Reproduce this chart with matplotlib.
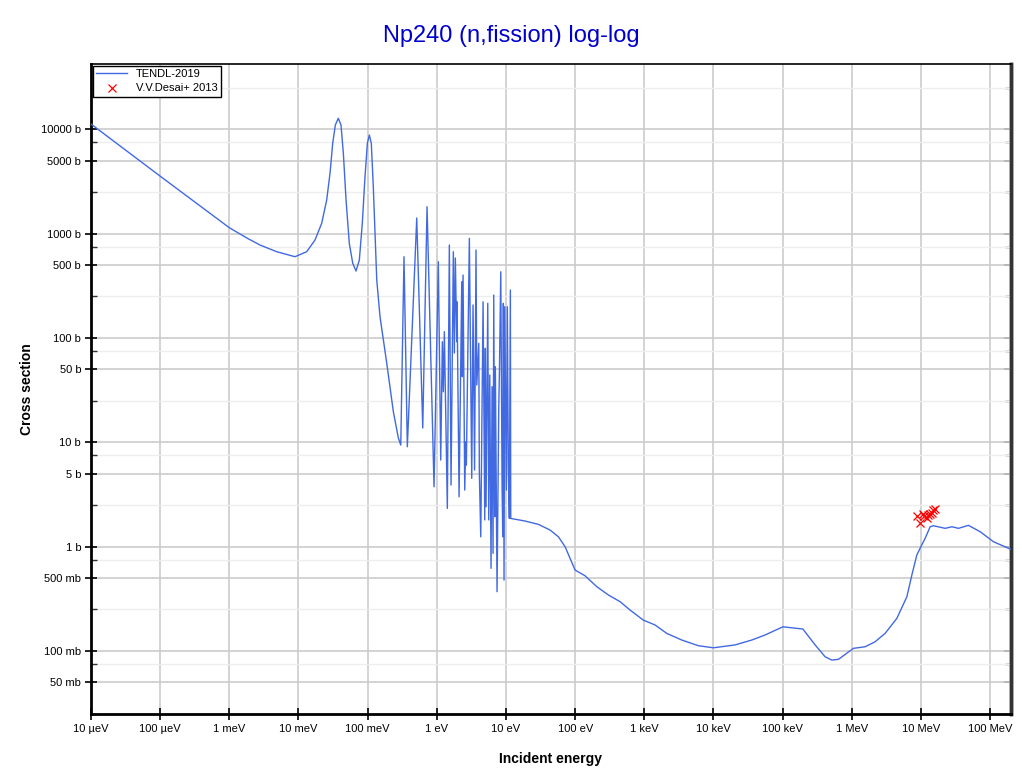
import matplotlib
matplotlib.use("Agg")
import matplotlib.pyplot as plt
from matplotlib.ticker import FixedLocator, FixedFormatter, NullFormatter

plt.rcParams['font.family'] = ['Liberation Sans', 'DejaVu Sans']

# TENDL-2019 evaluated cross section (energy in eV, sigma in barns)
tendl_energy = [
    1.0e-5, 1.0e-4, 1.0e-3, 1.8e-3, 2.78e-3, 4.84e-3, 8.91e-3, 0.01315, 0.01733, 0.02167, 0.02559,
    0.02858, 0.03126, 0.03412, 0.03767, 0.04121, 0.04457, 0.04875, 0.05433, 0.06095, 0.06792,
    0.07586, 0.08375, 0.09162, 0.0991, 0.1059, 0.1130, 0.1208, 0.1355, 0.1510, 0.1888,
    0.2355, 0.2780, 0.3013, 0.3357, 0.3750, 0.5128, 0.6266, 0.7228, 0.9120, 1.052,
    1.140, 1.203, 1.244, 1.286, 1.420, 1.518, 1.607, 1.734, 1.794, 1.854,
    1.941, 1.963, 2.099, 2.296, 2.340, 2.397, 2.535, 2.623, 2.675, 2.956,
    3.201, 3.342, 3.515, 3.690, 3.784, 4.045, 4.123, 4.322, 4.667, 4.935,
    5.035, 5.152, 5.454, 5.636, 5.834, 6.083, 6.295, 6.506, 6.657, 6.880,
    7.025, 7.430, 7.870, 8.035, 8.414, 8.786, 8.995, 9.166, 9.379, 9.612,
    10.14, 10.47, 10.83, 11.19, 11.58, 11.73, 18.9, 29.4, 43.4, 57.3,
    71.6, 84.6, 99.8, 139.0, 206.0, 303.0, 447.0, 623.0, 970.0, 1432.0,
    2115.0, 3483.0, 6053.0, 9980.0, 20560.0, 35810.0, 55850.0, 1.007e5, 1.959e5, 2.951e5,
    4.11e5, 5.14e5, 6.41e5, 1.057e6, 1.56e6, 2.17e6, 3.03e6, 4.48e6, 6.25e6, 7.38e6,
    8.71e6, 9.95e6, 1.148e7, 1.358e7, 1.517e7, 2.239e7, 2.80e7, 3.48e7, 4.86e7, 7.18e7,
    1.117e8, 1.56e8, 2.0e8,
]
tendl_sigma = [
    11250, 3560, 1140, 907, 778, 671, 601, 671, 868, 1256, 2100,
    3787, 7345, 11000, 12760, 11000, 5890, 2100, 807, 519, 438,
    558, 1256, 3514, 7345, 8820, 7345, 2818, 359, 160, 57.5,
    19.6, 11.0, 9.40, 601, 9.05, 1412, 13.7, 1811, 3.74, 538,
    6.75, 92, 30.5, 115, 2.32, 778, 3.89, 671, 71.7, 584,
    92, 222, 3.00, 346, 42.5, 401, 3.48, 10.1, 6.04, 902,
    4.51, 207, 5.41, 697, 35.4, 88.8, 5.03, 1.24, 222, 1.80,
    79.5, 2.41, 215, 1.80, 44.1, 0.618, 34.1, 0.861, 258, 1.93,
    53.0, 0.369, 21.9, 45.8, 431, 3.74, 1.24, 215, 0.477, 199,
    3.48, 199, 5.41, 1.86, 288, 1.86, 1.756, 1.632, 1.44, 1.24,
    0.996, 0.771, 0.595, 0.525, 0.412, 0.343, 0.296, 0.246, 0.197, 0.177,
    0.147, 0.127, 0.112, 0.107, 0.114, 0.127, 0.142, 0.170, 0.162, 0.114,
    0.0878, 0.0816, 0.0829, 0.1057, 0.1095, 0.1222, 0.147, 0.205, 0.330, 0.533,
    0.829, 0.995, 1.198, 1.548, 1.583, 1.495, 1.548, 1.495, 1.597, 1.387,
    1.112, 1.01, 0.940,
]

# V.V.Desai+ 2013 measurement
exp_energy = [8.81e6, 9.73e6, 1.065e7, 1.11e7, 1.216e7, 1.28e7, 1.358e7, 1.436e7, 1.514e7, 1.603e7]
exp_sigma = [1.96, 1.69, 2.05, 1.96, 1.86, 2.00, 2.05, 2.11, 2.24, 2.30]

x_ticks = [1e-5, 1e-4, 1e-3, 1e-2, 1e-1, 1, 10, 100, 1e3, 1e4, 1e5, 1e6, 1e7, 1e8]
x_labels = ["10 µeV", "100 µeV", "1 meV", "10 meV", "100 meV", "1 eV", "10 eV",
            "100 eV", "1 keV", "10 keV", "100 keV", "1 MeV", "10 MeV", "100 MeV"]
y_ticks = [0.05, 0.1, 0.5, 1, 5, 10, 50, 100, 500, 1000, 5000, 10000]
y_labels = ["50 mb", "100 mb", "500 mb", "1 b", "5 b", "10 b", "50 b", "100 b",
            "500 b", "1000 b", "5000 b", "10000 b"]
y_minor = [0.025, 0.075, 0.25, 0.75, 2.5, 7.5, 25, 75, 250, 750, 2500, 7500, 25000]

fig = plt.figure(figsize=(10.22, 7.74), dpi=100)
ax = fig.add_axes([0.0890, 0.0775, 0.9002, 0.8398])

ax.plot(tendl_energy, tendl_sigma, color='#4169e1', lw=1.0, label='TENDL-2019', zorder=3)
ax.plot(exp_energy, exp_sigma, linestyle='none', marker='x', color='red', ms=6,
        mew=0.9, label='V.V.Desai+ 2013', zorder=4)

ax.set_xscale('log')
ax.set_yscale('log')
ax.set_xlim(1e-5, 2e8)
ax.set_ylim(0.0248, 42300)

ax.xaxis.set_major_locator(FixedLocator(x_ticks))
ax.xaxis.set_major_formatter(FixedFormatter(x_labels))
ax.xaxis.set_minor_locator(FixedLocator([]))
ax.yaxis.set_major_locator(FixedLocator(y_ticks))
ax.yaxis.set_major_formatter(FixedFormatter(y_labels))
ax.yaxis.set_minor_locator(FixedLocator(y_minor))
ax.yaxis.set_minor_formatter(NullFormatter())

ax.grid(True, which='major', color='#cccccc', lw=1.2, zorder=0)
ax.grid(True, which='minor', axis='y', color='#eeeeee', lw=1.0, zorder=0)
ax.set_axisbelow(True)

ax.tick_params(axis='both', which='major', direction='inout', length=8, width=1.2,
               labelsize=8, color='black', pad=3)
ax.tick_params(axis='y', which='minor', direction='in', length=4, width=1.0, color='#333333')
ax.tick_params(axis='y', which='both', right=False)

# inward ticks on the right side
sec = ax.secondary_yaxis('right')
sec.yaxis.set_major_locator(FixedLocator(y_ticks))
sec.yaxis.set_minor_locator(FixedLocator(y_minor))
sec.yaxis.set_major_formatter(NullFormatter())
sec.yaxis.set_minor_formatter(NullFormatter())
sec.tick_params(axis='y', which='major', direction='in', length=5, width=1.2, color='#333333')
sec.tick_params(axis='y', which='minor', direction='in', length=4, width=1.0, color='#333333')
sec.spines['right'].set_linewidth(2.5)
sec.spines['right'].set_color('#333333')

for side in ['left', 'bottom']:
    ax.spines[side].set_linewidth(2.0)
    ax.spines[side].set_color('black')
ax.spines['top'].set_linewidth(1.2)
ax.spines['top'].set_color('black')
ax.spines['right'].set_linewidth(2.5)
ax.spines['right'].set_color('#333333')

ax.set_xlabel('Incident energy', fontsize=10, fontweight='bold')
ax.set_ylabel('Cross section', fontsize=10, fontweight='bold')
ax.xaxis.set_label_coords(0.5, -0.058)
ax.yaxis.set_label_coords(-0.062, 0.5)

fig.text(0.5, 0.953, 'Np240 (n,fission) log-log', ha='center', va='center',
         fontsize=17, color='#0000cc')

leg = ax.legend(loc='upper left', fontsize=8, fancybox=False, framealpha=1,
                edgecolor='black', borderaxespad=0.15, handlelength=2.8,
                borderpad=0.3, labelspacing=0.4)
leg.get_frame().set_linewidth(1.0)

fig.savefig('out.png', dpi=100)
